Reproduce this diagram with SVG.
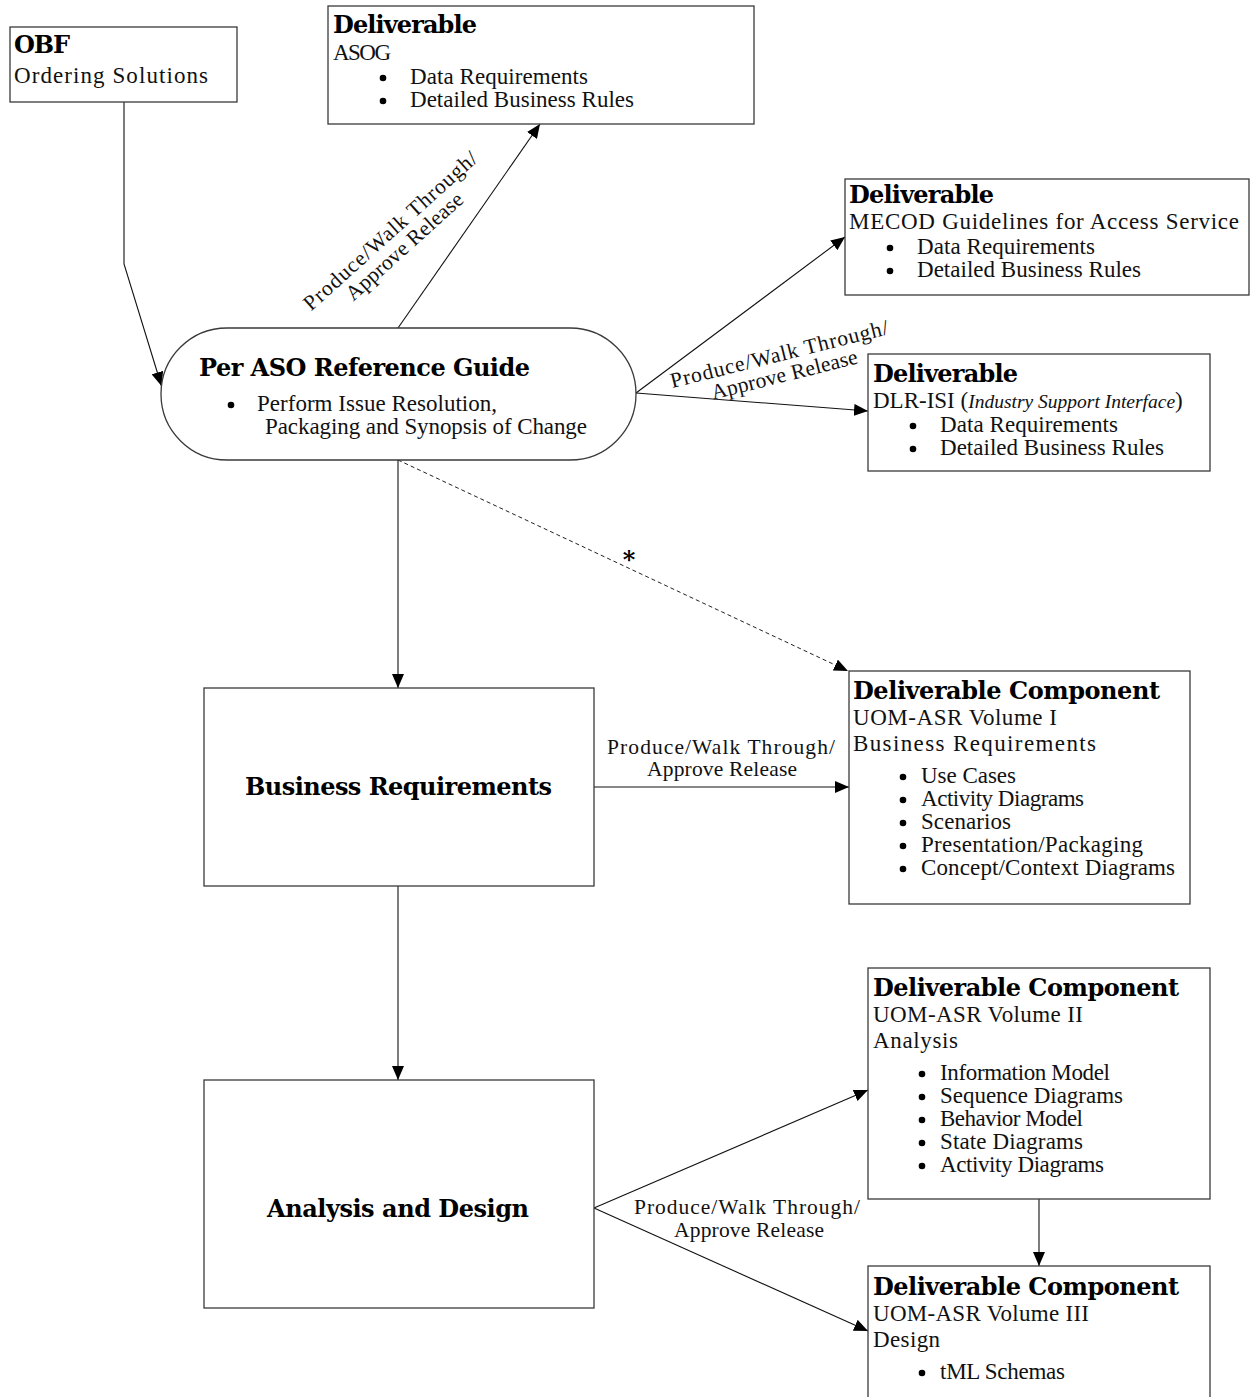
<svg xmlns="http://www.w3.org/2000/svg" width="1250" height="1397" viewBox="0 0 1250 1397">
<style>
.box{fill:#fff;stroke:#3a3a3a;stroke-width:1.3}
.h{font-family:"DejaVu Serif","Liberation Serif",serif;font-weight:bold;font-size:24px;fill:#000}
.t{font-family:"Liberation Serif","DejaVu Serif",serif;font-size:23px;fill:#111}
.lbl{font-family:"Liberation Serif","DejaVu Serif",serif;font-size:21.5px;fill:#111}
.c{fill:none;stroke:#111;stroke-width:1.1}
.d{fill:none;stroke:#222;stroke-width:1;stroke-dasharray:4 3}
.b{fill:#000}
</style>
<defs>
<marker id="arr" viewBox="0 0 14 12" refX="14" refY="6" markerWidth="14" markerHeight="12" markerUnits="userSpaceOnUse" orient="auto"><path d="M0,0 L14,6 L0,12 z" fill="#000"/></marker>
</defs>
<rect width="1250" height="1397" fill="#fff"/>

<g id="connectors">
<polyline class="c" points="124,102 124,264 161.5,386" marker-end="url(#arr)"/>
<line class="c" x1="398" y1="328" x2="540" y2="124" marker-end="url(#arr)"/>
<line class="c" x1="636" y1="393" x2="845" y2="237" marker-end="url(#arr)"/>
<line class="c" x1="636" y1="393" x2="868" y2="411" marker-end="url(#arr)"/>
<line class="d" x1="398" y1="460" x2="848" y2="671" marker-end="url(#arr)"/>
<line class="c" x1="398" y1="460" x2="398" y2="688" marker-end="url(#arr)"/>
<line class="c" x1="594" y1="787" x2="849" y2="787" marker-end="url(#arr)"/>
<line class="c" x1="398" y1="886" x2="398" y2="1080" marker-end="url(#arr)"/>
<line class="c" x1="594" y1="1208" x2="868" y2="1090" marker-end="url(#arr)"/>
<line class="c" x1="594" y1="1208" x2="868" y2="1331" marker-end="url(#arr)"/>
<line class="c" x1="1039" y1="1199" x2="1039" y2="1266" marker-end="url(#arr)"/>
<g transform="translate(395,236) rotate(-42)">
<text class="lbl" x="0" y="0" text-anchor="middle" textLength="226">Produce/Walk Through/</text>
<text class="lbl" x="0" y="21" text-anchor="middle" textLength="150">Approve Release</text>
</g>
<g transform="translate(781,361) rotate(-14)">
<text class="lbl" x="0" y="0" text-anchor="middle" textLength="224">Produce/Walk Through/</text>
<text class="lbl" x="0" y="21" text-anchor="middle" textLength="150">Approve Release</text>
</g>
<text class="h" x="629" y="568" text-anchor="middle" font-size="26">*</text>
<text class="lbl" x="721" y="754" text-anchor="middle" textLength="228">Produce/Walk Through/</text>
<text class="lbl" x="722" y="776" text-anchor="middle" textLength="150">Approve Release</text>
<text class="lbl" x="747" y="1214" text-anchor="middle" textLength="226">Produce/Walk Through/</text>
<text class="lbl" x="749" y="1237" text-anchor="middle" textLength="150">Approve Release</text>
</g>

<g id="obf">
<rect class="box" x="10" y="27" width="227" height="75"/>
<text class="h" x="14" y="53" textLength="56">OBF</text>
<text class="t" x="14" y="83" textLength="194">Ordering Solutions</text>
</g>

<g id="asog">
<rect class="box" x="328" y="6" width="426" height="118"/>
<text class="h" x="333" y="33" textLength="144">Deliverable</text>
<text class="t" x="333" y="60" textLength="58">ASOG</text>
<circle class="b" cx="383" cy="78" r="3.3"/>
<circle class="b" cx="383" cy="101" r="3.3"/>
<text class="t" x="410" y="84" textLength="178">Data Requirements</text>
<text class="t" x="410" y="107" textLength="224">Detailed Business Rules</text>
</g>

<g id="mecod">
<rect class="box" x="845" y="179" width="404" height="116"/>
<text class="h" x="849" y="203" textLength="145">Deliverable</text>
<text class="t" x="849" y="229" textLength="390">MECOD Guidelines for Access Service</text>
<circle class="b" cx="890" cy="248" r="3.3"/>
<circle class="b" cx="890" cy="271" r="3.3"/>
<text class="t" x="917" y="254" textLength="178">Data Requirements</text>
<text class="t" x="917" y="277" textLength="224">Detailed Business Rules</text>
</g>

<g id="dlr">
<rect class="box" x="868" y="354" width="342" height="117"/>
<text class="h" x="873" y="382" textLength="145">Deliverable</text>
<text class="t" x="873" y="408">DLR-ISI (<tspan font-style="italic" font-size="19.5">Industry Support Interface</tspan>)</text>
<circle class="b" cx="913" cy="426" r="3.3"/>
<circle class="b" cx="913" cy="449" r="3.3"/>
<text class="t" x="940" y="432" textLength="178">Data Requirements</text>
<text class="t" x="940" y="455" textLength="224">Detailed Business Rules</text>
</g>

<g id="aso-guide">
<rect class="box" x="161" y="328" width="475" height="132" rx="66" ry="66"/>
<text class="h" x="199" y="376" font-size="24" textLength="331">Per ASO Reference Guide</text>
<circle class="b" cx="231" cy="405" r="3.3"/>
<text class="t" x="257" y="411" textLength="240">Perform Issue Resolution,</text>
<text class="t" x="265" y="434" textLength="322">Packaging and Synopsis of Change</text>
</g>

<g id="business-requirements">
<rect class="box" x="204" y="688" width="390" height="198"/>
<text class="h" x="245" y="795" font-size="24" textLength="307">Business Requirements</text>
</g>

<g id="uom-vol1">
<rect class="box" x="849" y="671" width="341" height="233"/>
<text class="h" x="853" y="699" font-size="24" textLength="307">Deliverable Component</text>
<text class="t" x="853" y="725" textLength="204">UOM-ASR Volume I</text>
<text class="t" x="853" y="751" textLength="243">Business Requirements</text>
<circle class="b" cx="903" cy="777" r="3.3"/>
<circle class="b" cx="903" cy="800" r="3.3"/>
<circle class="b" cx="903" cy="823" r="3.3"/>
<circle class="b" cx="903" cy="846" r="3.3"/>
<circle class="b" cx="903" cy="869" r="3.3"/>
<text class="t" x="921" y="783" textLength="95">Use Cases</text>
<text class="t" x="921" y="806" textLength="163">Activity Diagrams</text>
<text class="t" x="921" y="829" textLength="90">Scenarios</text>
<text class="t" x="921" y="852" textLength="222">Presentation/Packaging</text>
<text class="t" x="921" y="875" textLength="254">Concept/Context Diagrams</text>
</g>

<g id="analysis-design">
<rect class="box" x="204" y="1080" width="390" height="228"/>
<text class="h" x="267" y="1217" font-size="24" textLength="262">Analysis and Design</text>
</g>

<g id="uom-vol2">
<rect class="box" x="868" y="968" width="342" height="231"/>
<text class="h" x="873" y="996" font-size="24" textLength="306">Deliverable Component</text>
<text class="t" x="873" y="1022" textLength="210">UOM-ASR Volume II</text>
<text class="t" x="873" y="1048" textLength="85">Analysis</text>
<circle class="b" cx="922" cy="1074" r="3.3"/>
<circle class="b" cx="922" cy="1097" r="3.3"/>
<circle class="b" cx="922" cy="1120" r="3.3"/>
<circle class="b" cx="922" cy="1143" r="3.3"/>
<circle class="b" cx="922" cy="1166" r="3.3"/>
<text class="t" x="940" y="1080" textLength="170">Information Model</text>
<text class="t" x="940" y="1103" textLength="183">Sequence Diagrams</text>
<text class="t" x="940" y="1126" textLength="143">Behavior Model</text>
<text class="t" x="940" y="1149" textLength="143">State Diagrams</text>
<text class="t" x="940" y="1172" textLength="164">Activity Diagrams</text>
</g>

<g id="uom-vol3">
<rect class="box" x="868" y="1266" width="342" height="160"/>
<text class="h" x="873" y="1295" font-size="24" textLength="306">Deliverable Component</text>
<text class="t" x="873" y="1321" textLength="216">UOM-ASR Volume III</text>
<text class="t" x="873" y="1347" textLength="67">Design</text>
<circle class="b" cx="922" cy="1373" r="3.3"/>
<text class="t" x="940" y="1379" textLength="125">tML Schemas</text>
</g>
</svg>
